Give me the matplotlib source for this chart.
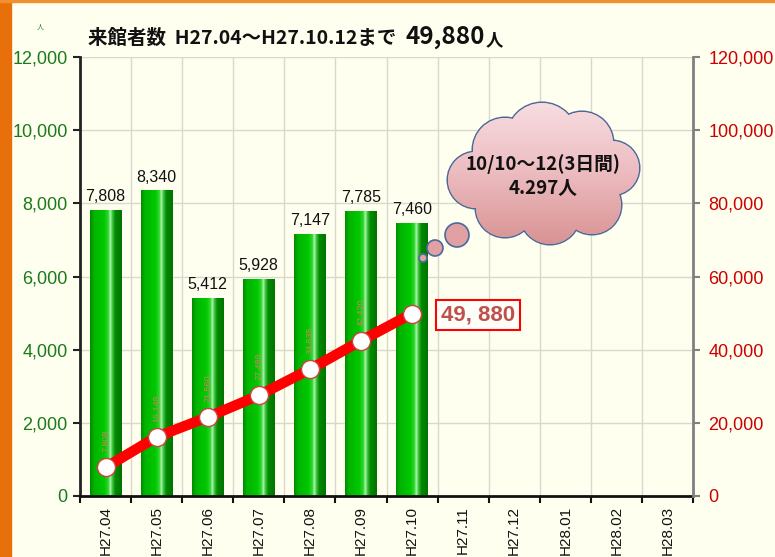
import numpy as np
import matplotlib
matplotlib.use("Agg")
import matplotlib.pyplot as plt
from matplotlib.colors import LinearSegmentedColormap
from matplotlib.patches import Rectangle, Circle
from matplotlib.path import Path
from matplotlib.patches import PathPatch

plt.rcParams['font.family'] = ['Liberation Sans', 'DejaVu Sans']

# ---- data ----
months = ['H27.04', 'H27.05', 'H27.06', 'H27.07', 'H27.08', 'H27.09',
          'H27.10', 'H27.11', 'H27.12', 'H28.01', 'H28.02', 'H28.03']
monthly = [7808, 8340, 5412, 5928, 7147, 7785, 7460]
cumulative = [7808, 16148, 21560, 27488, 34635, 42420, 49880]
left_ticks = [0, 2000, 4000, 6000, 8000, 10000, 12000]
right_ticks = [0, 20000, 40000, 60000, 80000, 100000, 120000]
total_label = '49, 880'
cloud_lines = ['10/10～12(3日間)', '4.297人']

W, H = 775, 557
BG = '#fffff0'
fig = plt.figure(figsize=(W / 100, H / 100), dpi=100, facecolor=BG)

# frame decorations
fig.patches.append(Rectangle((0, 0), 11 / W, 1, transform=fig.transFigure,
                             color='#e8700a', zorder=0))
fig.patches.append(Rectangle((0, 1 - 2 / H), 1, 2 / H, transform=fig.transFigure,
                             color='#f09030', zorder=0))

L, R, T, B = 80, 693, 57, 496
ax = fig.add_axes([L / W, 1 - B / H, (R - L) / W, (B - T) / H])
ax.set_facecolor(BG)
ax2 = ax.twinx()

x = np.arange(len(months))
bw = 0.62
cmap = LinearSegmentedColormap.from_list('g', [
    (0.0, '#008c00'), (0.12, '#00b400'), (0.45, '#00c800'), (0.58, '#30d830'),
    (0.64, '#b8f4b8'), (0.70, '#40c840'), (0.80, '#008a00'), (1.0, '#007400')])
grad = np.linspace(0, 1, 64).reshape(1, -1)
for xi, v in zip(x, monthly):
    ax.imshow(grad, cmap=cmap, extent=[xi - bw / 2, xi + bw / 2, 0, v],
              aspect='auto', zorder=2, interpolation='bilinear')
    ax.text(xi, v + 170, f'{v:,}', ha='center', va='bottom', fontsize=11.5,
            color='#111111', zorder=3)

ax.set_xlim(-0.5, len(months) - 0.5)
ax.set_ylim(0, 12000)
ax.set_yticks(left_ticks)
ax.set_yticklabels([f'{t:,}' for t in left_ticks], color='#1a7a1a', fontsize=13)
ax.set_xticks(x)
ax.set_xticklabels(months, rotation=90, fontsize=11, color='#111111')
ax.tick_params(axis='x', which='major', length=0, pad=7)
ax.set_xticks(np.arange(-0.5, len(months), 1), minor=True)
ax.tick_params(axis='x', which='minor', length=5, width=1.5, color='#111111')
ax.tick_params(axis='y', length=5, width=1.5, color='#222222', pad=4)
ax.grid(axis='y', color='#d8d8cc', linewidth=1)
ax.grid(axis='x', which='minor', color='#d8d8cc', linewidth=1)
ax.set_axisbelow(True)
for s in ['top', 'right']:
    ax.spines[s].set_visible(False)
ax.spines['left'].set_linewidth(2)
ax.spines['left'].set_color('#222222')
ax.spines['bottom'].set_linewidth(2)
ax.spines['bottom'].set_color('#111111')

# cumulative line
cx = x[:len(cumulative)]
ax2.plot(cx, cumulative, color='#ff0000', linewidth=7.5, solid_capstyle='butt',
         zorder=3)
ax2.plot(cx, cumulative, linestyle='none', marker='o', markersize=13,
         markerfacecolor='white', markeredgecolor='#d04040', markeredgewidth=1,
         zorder=4)
for xi, v in zip(cx[:-1], cumulative[:-1]):
    ax2.annotate(f'{v:,}', (xi, v), xytext=(0, 11), textcoords='offset points',
                 rotation=90, ha='center', va='bottom', fontsize=6.5,
                 color='#d08060', zorder=3)
ax2.set_ylim(0, 120000)
ax2.set_yticks(right_ticks)
ax2.set_yticklabels([f'{t:,}' for t in right_ticks], color='#cc0000', fontsize=13)
ax2.tick_params(axis='y', length=5, width=1.5, color='#808080', pad=6)
for s in ['top', 'left', 'bottom']:
    ax2.spines[s].set_visible(False)
ax2.spines['right'].set_linewidth(2)
ax2.spines['right'].set_color('#808080')

ax2.annotate(total_label, (cx[-1], cumulative[-1]), xytext=(21, -1),
             textcoords='offset points', ha='left', va='center', fontsize=16,
             color='#c0504d', zorder=6, weight='bold',
             bbox=dict(boxstyle='square,pad=0.22', facecolor='#fffffa',
                       edgecolor='#ff0000', linewidth=1.5))

# overlay for cloud & title (pixel coords)
ov = fig.add_axes([0, 0, 1, 1], zorder=10)
ov.set_xlim(0, W)
ov.set_ylim(H, 0)
ov.axis('off')
ov.patch.set_alpha(0)

blobs = [(505, 150, 32), (542, 138, 35), (582, 143, 31), (612, 168, 27),
         (592, 205, 29), (550, 214, 30), (505, 208, 29), (476, 180, 28),
         (542, 175, 48)]
small = [(457, 235, 12), (435, 248, 8), (423, 258, 4)]
edge = '#4a6a9a'
for (cxp, cyp, r) in blobs:
    ov.add_patch(Circle((cxp, cyp), r, facecolor='none', edgecolor=edge,
                        linewidth=2.2, zorder=1))
paths = [Path.circle((cxp, cyp), r) for (cxp, cyp, r) in blobs]
comp = Path.make_compound_path(*paths)
pp = PathPatch(comp, facecolor='#e8a8ac', edgecolor='none', zorder=2)
ov.add_patch(pp)
pink = LinearSegmentedColormap.from_list('p', ['#f8e0e4', '#ecbcc0', '#d89090'])
im = ov.imshow(np.linspace(0, 1, 64).reshape(-1, 1), cmap=pink,
               extent=[440, 660, 250, 95], aspect='auto', zorder=3)
im.set_clip_path(pp)
for (cxp, cyp, r) in small:
    ov.add_patch(Circle((cxp, cyp), r, facecolor='#e0a0a4', edgecolor=edge,
                        linewidth=1.2, zorder=4))
ov.set_xlim(0, W)
ov.set_ylim(H, 0)
cjk = ['Noto Sans CJK JP', 'DejaVu Sans']
ov.text(543, 164, cloud_lines[0], ha='center', va='center', fontsize=13.5,
        weight='bold', color='#111111', zorder=5, family=cjk)
ov.text(543, 188, cloud_lines[1], ha='center', va='center', fontsize=13.5,
        weight='bold', color='#111111', zorder=5, family=cjk)

# title pieces
t1 = ov.text(88, 38, '来館者数  H27.04～H27.10.12まで', ha='left', va='center',
             fontsize=14, weight='bold', color='#111111', family=cjk)
fig.canvas.draw()
bb = t1.get_window_extent()
t2 = ov.text(bb.x1 + 9, 37, '49,880', ha='left', va='center', fontsize=17.5,
             weight='bold', color='#111111', family=cjk)
fig.canvas.draw()
bb2 = t2.get_window_extent()
ov.text(bb2.x1 + 1, 40, '人', ha='left', va='center', fontsize=12.5,
        weight='bold', color='#111111', family=cjk)
ov.text(40, 28, '人', ha='center', va='center', fontsize=5, color='#1a7a1a',
        family=cjk)

fig.savefig('out.png', dpi=100, facecolor=BG)
